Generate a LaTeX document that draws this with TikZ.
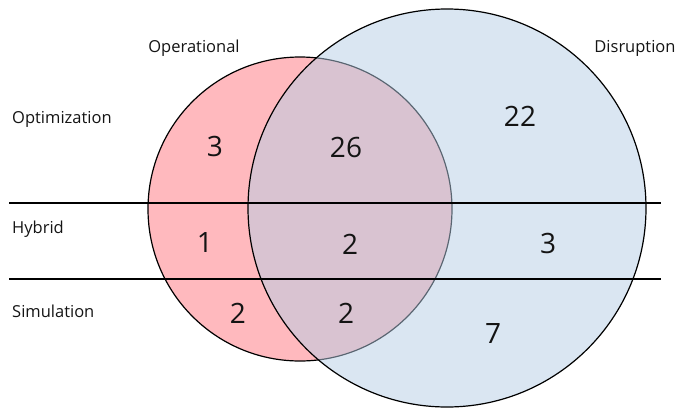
\documentclass[tikz,border=0pt]{standalone}
\usepackage{fontspec}
\setmainfont{Open Sans}
\definecolor{redfill}{RGB}{255,185,190}
\definecolor{bluebase}{RGB}{181,205,229}
\definecolor{txt}{RGB}{20,20,20}
\begin{document}
\begin{tikzpicture}[x=1pt,y=-1pt,
  setlabel/.style={font=\fontsize{16.5}{18}\selectfont, text=txt, inner sep=0pt},
  rowlabel/.style={setlabel, anchor=west},
  count/.style={font=\fontsize{28}{30}\selectfont, text=txt, inner sep=0pt},
  divider/.style={line width=1.1pt, black}]
\useasboundingbox (0,0) rectangle (677,410);
\node[circle, minimum size=304pt, inner sep=0pt, fill=redfill, draw=black, line width=1.2pt] (red) at (300,209) {};
\node[circle, minimum size=398pt, inner sep=0pt, fill=bluebase, fill opacity=0.5, draw=black, line width=1.2pt] (blue) at (447,208) {};
\coordinate (l1a) at (9,203); \coordinate (l1b) at (661,203);
\coordinate (l2a) at (9,279); \coordinate (l2b) at (661,279);
\draw[divider] (l1a) -- (l1b);
\draw[divider] (l2a) -- (l2b);
\node[setlabel] (op) at (194,48) {Operational};
\node[setlabel] (dis) at (635,48) {Disruption};
\node[rowlabel] (opt) at (12,119) {Optimization};
\node[rowlabel] (hyb) at (12,229) {Hybrid};
\node[rowlabel] (sim) at (12,311) {Simulation};
\node[count] (n1) at (215,146) {3};
\node[count] (n2) at (346,147) {26};
\node[count] (n3) at (520,116) {22};
\node[count] (n4) at (205,243) {1};
\node[count] (n5) at (350,244) {2};
\node[count] (n6) at (548,243) {3};
\node[count] (n7) at (238,313) {2};
\node[count] (n8) at (346,313) {2};
\node[count] (n9) at (493,333) {7};
\end{tikzpicture}
\end{document}
